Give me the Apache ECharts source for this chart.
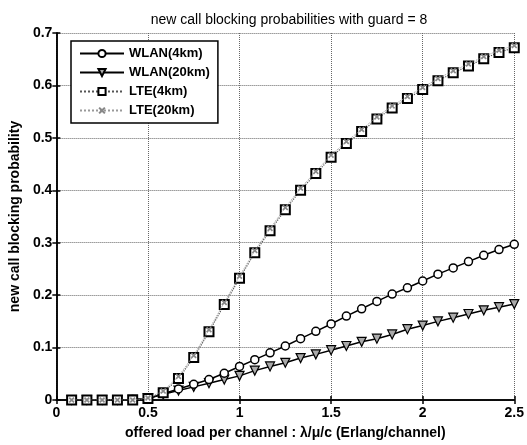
<!DOCTYPE html>
<html>
<head>
<meta charset="utf-8">
<script src="https://cdn.jsdelivr.net/npm/echarts@6/dist/echarts.min.js"></script>
<style>
    html, body { margin: 0; padding: 0; background: #fff; }
    #chart { width: 527px; height: 445px; }
</style>
</head>
<body>
<div id="chart"></div>
<script>
    // offered load, k/12 for k = 1..30
    var loads = [1, 2, 3, 4, 5, 6, 7, 8, 9, 10, 11, 12, 13, 14, 15, 16, 17, 18, 19, 20,
        21, 22, 23, 24, 25, 26, 27, 28, 29, 30].map(function (k) { return k / 12; });

    var wlan4 = [0, 0, 0, 0, 0.001, 0.003, 0.012, 0.021, 0.030, 0.039,
        0.051, 0.064, 0.077, 0.090, 0.103, 0.117, 0.131, 0.145, 0.160, 0.174,
        0.188, 0.202, 0.214, 0.227, 0.240, 0.252, 0.264, 0.276, 0.287, 0.297];
    var wlan20 = [0, 0, 0, 0, 0.001, 0.003, 0.011, 0.018, 0.025, 0.032,
        0.039, 0.046, 0.056, 0.064, 0.071, 0.080, 0.087, 0.095, 0.103, 0.111,
        0.117, 0.125, 0.135, 0.142, 0.150, 0.157, 0.164, 0.171, 0.177, 0.183];
    var lte4 = [0, 0, 0, 0, 0, 0.003, 0.014, 0.041, 0.081, 0.130,
        0.182, 0.232, 0.281, 0.323, 0.363, 0.400, 0.432, 0.463, 0.489, 0.512,
        0.536, 0.557, 0.575, 0.592, 0.609, 0.624, 0.637, 0.651, 0.663, 0.672];
    var lte20 = [0, 0, 0, 0, 0, 0.004, 0.017, 0.045, 0.085, 0.134,
        0.186, 0.236, 0.285, 0.327, 0.367, 0.404, 0.436, 0.467, 0.493, 0.516,
        0.540, 0.561, 0.579, 0.596, 0.613, 0.628, 0.641, 0.655, 0.667, 0.676];

    var xTicks = [0, 0.5, 1, 1.5, 2, 2.5];
    var yTicks = [0, 0.1, 0.2, 0.3, 0.4, 0.5, 0.6, 0.7];

    function pairs(ys) {
        return loads.map(function (x, i) { return [x, ys[i]]; });
    }

    var font = 'Liberation Sans, Arial, sans-serif';
    var crossPath = 'path://M2,0L5,3L8,0L10,2L7,5L10,8L8,10L5,7L2,10L0,8L3,5L0,2Z';

    var frameAxis = {
        type: 'value',
        axisLine: { show: true, lineStyle: { color: '#000', width: 1.5 } },
        axisTick: { show: true, inside: true, length: 4, lineStyle: { color: '#000', width: 1.5 } },
        axisLabel: { show: false },
        splitLine: { show: false }
    };

    var option = {
        backgroundColor: '#fff',
        animation: false,
        title: {
            text: 'new call blocking probabilities with guard = 8',
            left: 284,
            textAlign: 'center',
            top: 8,
            textStyle: { fontFamily: font, fontSize: 14, fontWeight: 'normal', color: '#000' }
        },
        grid: { left: 54, right: 6, top: 33, bottom: 44 },
        legend: {
            orient: 'vertical',
            left: 71,
            top: 41,
            padding: [6, 8, 6, 8],
            itemGap: 6,
            itemWidth: 44,
            itemHeight: 9,
            backgroundColor: '#fff',
            borderColor: '#000',
            borderWidth: 1.5,
            textStyle: { fontFamily: font, fontSize: 13, fontWeight: 'bold', color: '#000' },
            data: ['WLAN(4km)', 'WLAN(20km)', 'LTE(4km)', 'LTE(20km)']
        },
        xAxis: [Object.assign({}, frameAxis, {
            min: 0, max: 2.5, interval: 0.5,
            position: 'bottom',
            axisLabel: {
                show: true, margin: 6, color: '#000',
                fontFamily: font, fontSize: 14, fontWeight: 'bold',
                formatter: function (v) { return xTicks.indexOf(v) >= 0 ? String(v) : ''; }
            },
            splitLine: { show: true, lineStyle: { color: '#666', type: 'dotted', width: 1 } },
            name: 'offered load per channel : λ/μ/c (Erlang/channel)',
            nameLocation: 'middle',
            nameGap: 26,
            nameTextStyle: { fontFamily: font, fontSize: 14, fontWeight: 'bold', color: '#000' }
        }), Object.assign({}, frameAxis, {
            min: 0, max: 2.5, interval: 0.5, position: 'top'
        })],
        yAxis: [Object.assign({}, frameAxis, {
            min: 0, max: 0.7, interval: 0.1,
            position: 'left',
            axisLabel: {
                show: true, margin: 4, color: '#000',
                fontFamily: font, fontSize: 14, fontWeight: 'bold',
                formatter: function (v) {
                    var t = Math.round(v * 10) / 10;
                    return yTicks.indexOf(t) >= 0 ? String(t) : '';
                }
            },
            splitLine: { show: true, lineStyle: { color: '#666', type: 'dotted', width: 1 } },
            name: 'new call blocking probability',
            nameLocation: 'middle',
            nameGap: 28,
            nameTextStyle: { fontFamily: font, fontSize: 14, fontWeight: 'bold', color: '#000' }
        }), Object.assign({}, frameAxis, {
            min: 0, max: 0.7, interval: 0.1, position: 'right'
        })],
        series: [
            {
                name: 'WLAN(4km)',
                type: 'line',
                data: pairs(wlan4),
                symbol: 'circle',
                symbolSize: 8,
                lineStyle: { color: '#000', width: 1.5 },
                itemStyle: { color: '#fff', borderColor: '#000', borderWidth: 1.5 },
                z: 4
            },
            {
                name: 'WLAN(20km)',
                type: 'line',
                data: pairs(wlan20),
                symbol: 'triangle',
                symbolRotate: 180,
                symbolSize: 9,
                lineStyle: { color: '#000', width: 1.5 },
                itemStyle: { color: '#aaa', borderColor: '#000', borderWidth: 1.2 },
                z: 3
            },
            {
                name: 'LTE(4km)',
                type: 'line',
                data: pairs(lte4),
                symbol: 'rect',
                symbolSize: 9,
                lineStyle: { color: '#555', width: 1.2, type: 'dotted' },
                itemStyle: { color: '#fff', borderColor: '#000', borderWidth: 2 },
                z: 5
            },
            {
                name: 'LTE(20km)',
                type: 'line',
                data: pairs(lte20),
                symbol: crossPath,
                symbolSize: 6,
                lineStyle: { color: '#999', width: 1, type: 'dotted' },
                itemStyle: { color: '#888' },
                z: 6
            }
        ]
    };

    echarts.init(document.getElementById('chart')).setOption(option);
</script>
</body>
</html>
